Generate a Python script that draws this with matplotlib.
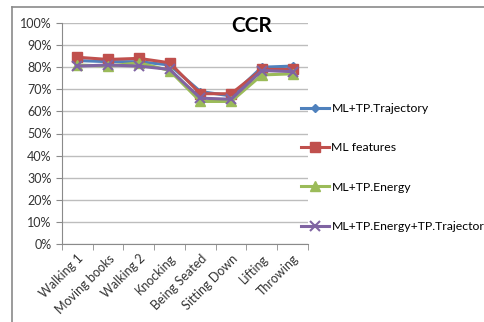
import matplotlib.pyplot as plt
from matplotlib.lines import Line2D
import numpy as np

plt.rcParams['font.family'] = ['Lato', 'DejaVu Sans']

categories = ["Walking 1", "Moving books", "Walking 2", "Knocking",
              "Being Seated", "Sitting Down", "Lifting", "Throwing"]
trajectory = [0.83, 0.825, 0.825, 0.81, 0.69, 0.67, 0.80, 0.805]
ml_features = [0.845, 0.835, 0.84, 0.82, 0.68, 0.68, 0.79, 0.79]
energy = [0.81, 0.805, 0.82, 0.785, 0.645, 0.645, 0.765, 0.77]
energy_traj = [0.805, 0.81, 0.805, 0.79, 0.66, 0.655, 0.785, 0.78]
series_names = ["ML+TP.Trajectory", "ML features", "ML+TP.Energy",
                "ML+TP.Energy+TP.Trajectory"]

W, H = 485, 322
fig = plt.figure(figsize=(W / 100, H / 100), dpi=100)

# outer chart frame (runs off the right and bottom edges)
fig.add_artist(Line2D([12 / W, 1], [1 - 7 / H, 1 - 7 / H], color="#8a8a8a", lw=1.2))
fig.add_artist(Line2D([12 / W, 12 / W], [0, 1 - 7 / H], color="#8a8a8a", lw=1.2))

ax = fig.add_axes([62 / W, 1 - 244 / H, (308 - 62) / W, (244 - 23) / H])

x = np.arange(len(categories))
styles = [
    dict(color="#4F81BD", marker="D", ms=4),
    dict(color="#C0504D", marker="s", ms=7),
    dict(color="#9BBB59", marker="^", ms=7),
    dict(color="#8064A2", marker="x", ms=7, mew=1.5),
]
handles = []
for vals, st in zip([trajectory, ml_features, energy, energy_traj], styles):
    h, = ax.plot(x, vals, lw=2.2, **st)
    handles.append(h)

ax.set_xlim(-0.5, len(categories) - 0.5)
ax.set_ylim(0, 1)
ax.set_yticks(np.arange(0, 1.01, 0.1))
ax.set_yticklabels(["%d%%" % round(v * 100) for v in np.arange(0, 1.01, 0.1)])
ax.yaxis.grid(True, color="#bdbdbd", lw=1)
ax.set_axisbelow(True)

ax.set_xticks(x)
ax.set_xticklabels(categories, rotation=45, ha="right", rotation_mode="anchor")
ax.set_xticks(np.arange(-0.5, len(categories)), minor=True)
ax.tick_params(axis="x", which="major", length=0, pad=6)
ax.tick_params(axis="x", which="minor", length=4, color="#8a8a8a")
ax.tick_params(axis="y", length=4, color="#8a8a8a")
ax.tick_params(labelsize=9, labelcolor="#333333")

for side in ["top", "right"]:
    ax.spines[side].set_visible(False)
for side in ["left", "bottom"]:
    ax.spines[side].set_color("#8a8a8a")

fig.text(252 / W, 1 - 26 / H, "CCR", fontsize=15, fontweight="bold",
         ha="center", va="center")

leg = fig.legend(handles, series_names, loc="upper left",
                 bbox_to_anchor=(296 / W, 1 - 98 / H), frameon=False,
                 fontsize=8.8, labelspacing=2.32, handlelength=2.3,
                 handletextpad=0.2, borderaxespad=0)

fig.savefig("out.png", dpi=100)
